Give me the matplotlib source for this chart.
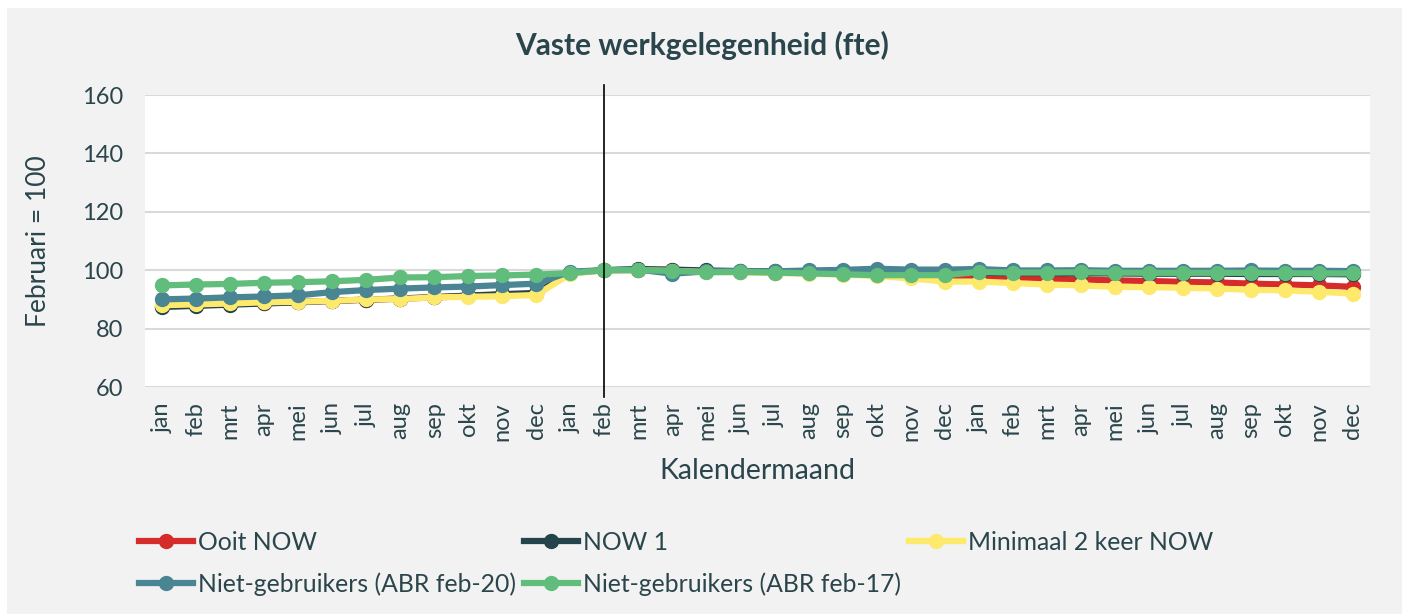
import matplotlib.pyplot as plt
from matplotlib.patches import Rectangle

months = ['jan', 'feb', 'mrt', 'apr', 'mei', 'jun', 'jul', 'aug', 'sep', 'okt', 'nov', 'dec'] * 3

ooit_now = [87.7, 88.0, 88.4, 88.8, 89.1, 89.5, 89.9, 90.2, 90.7, 91.1, 91.5, 91.9,
            99.0, 100.0, 100.1, 99.9, 99.6, 99.5, 99.2, 99.0, 98.7, 98.3, 98.0, 97.8,
            97.6, 97.3, 97.1, 96.8, 96.5, 96.3, 96.0, 95.8, 95.4, 95.1, 94.8, 94.3]
now_1 = [87.4, 87.8, 88.2, 88.6, 89.0, 89.5, 89.9, 90.3, 90.8, 91.3, 91.8, 92.2,
         99.2, 100.0, 100.4, 100.2, 99.9, 99.7, 99.6, 99.5, 99.4, 99.3, 99.2, 99.1,
         99.1, 99.0, 99.0, 98.9, 98.9, 98.8, 98.8, 98.8, 98.7, 98.7, 98.7, 98.6]
min_2_keer = [88.0, 88.3, 88.6, 89.0, 89.2, 89.5, 90.0, 90.1, 90.7, 90.9, 91.1, 91.5,
              98.8, 100.0, 100.0, 99.7, 99.4, 99.3, 99.0, 98.8, 98.5, 98.0, 97.2, 96.1,
              96.1, 95.6, 95.1, 94.8, 94.3, 94.2, 94.0, 93.7, 93.3, 93.1, 92.6, 92.0]
niet_feb20 = [90.0, 90.3, 90.7, 91.0, 91.4, 92.5, 93.2, 93.7, 94.1, 94.4, 94.9, 95.4,
              99.5, 100.0, 100.2, 98.8, 99.6, 99.7, 99.6, 99.9, 100.1, 100.5, 100.2, 100.2,
              100.4, 99.9, 99.9, 100.0, 99.8, 99.8, 99.8, 99.8, 99.9, 99.8, 99.8, 99.7]
niet_feb17 = [94.8, 95.1, 95.3, 95.7, 95.9, 96.2, 96.7, 97.5, 97.6, 98.0, 98.2, 98.5,
              99.0, 100.0, 100.0, 99.8, 99.3, 99.4, 99.2, 98.9, 98.6, 98.3, 98.3, 98.3,
              99.4, 99.2, 99.2, 99.3, 99.2, 99.1, 99.1, 99.1, 99.1, 99.0, 98.9, 98.9]

series = [
    ('Ooit NOW', ooit_now, '#d52b2b'),
    ('NOW 1', now_1, '#24434a'),
    ('Minimaal 2 keer NOW', min_2_keer, '#fde96c'),
    ('Niet-gebruikers (ABR feb-20)', niet_feb20, '#4a8594'),
    ('Niet-gebruikers (ABR feb-17)', niet_feb17, '#60bd7b'),
]

text_color = '#2a454c'
plt.rcParams['font.family'] = ['Lato', 'DejaVu Sans']

fig = plt.figure(figsize=(14.02, 6.14), dpi=100, facecolor='white')
fig.patches.append(Rectangle((7 / 1402, 0), 1, 1 - 8 / 614, transform=fig.transFigure,
                             facecolor='#f2f2f2', edgecolor='none', zorder=-10))

ax = fig.add_axes([145 / 1402, 1 - 387 / 614, 1225 / 1402, 292 / 614])
ax.set_facecolor('white')

x = list(range(len(months)))
lines = {}
for name, vals, col in series:
    ln, = ax.plot(x, vals, color=col, lw=4.5, marker='o', ms=10,
                  markerfacecolor=col, markeredgecolor=col, label=name, zorder=3)
    lines[name] = ln

# reference month (feb) marker line
ax.axvline(13, ymin=-0.035, ymax=1.035, color='black', lw=1.2, clip_on=False, zorder=5)

ax.set_xlim(-0.5, len(months) - 0.5)
ax.set_ylim(60, 160)
ax.set_yticks(range(60, 161, 20))
ax.set_xticks(x)
ax.set_xticklabels(months, rotation=90, fontsize=17, color=text_color)
ax.tick_params(axis='y', labelsize=17, labelcolor=text_color, length=0, pad=16)
ax.tick_params(axis='x', length=0, pad=11)
ax.grid(axis='y', color='#d9d9d9', lw=1.5, zorder=0)
ax.set_axisbelow(True)
for s in ax.spines.values():
    s.set_visible(False)

ax.set_ylabel('Februari = 100', fontsize=19, color=text_color, labelpad=22)
ax.set_xlabel('Kalendermaand', fontsize=20.5, color=text_color, labelpad=12)
fig.text(702 / 1402, 1 - 45 / 614, 'Vaste werkgelegenheid (fte)', fontsize=21.5,
         fontweight='bold', color=text_color, ha='center', va='center')

order = ['Ooit NOW', 'Niet-gebruikers (ABR feb-20)', 'NOW 1',
         'Niet-gebruikers (ABR feb-17)', 'Minimaal 2 keer NOW']
leg = fig.legend([lines[n] for n in order], order, ncol=3, loc='upper left',
                 bbox_to_anchor=(139 / 1402, 1 - 531 / 614), frameon=False,
                 fontsize=17.8, handlelength=2.2, handletextpad=0.2, columnspacing=0.3,
                 labelspacing=0.75, borderaxespad=0, borderpad=0)
for t in leg.get_texts():
    t.set_color(text_color)

fig.savefig('out.png', dpi=100, facecolor=fig.get_facecolor())
